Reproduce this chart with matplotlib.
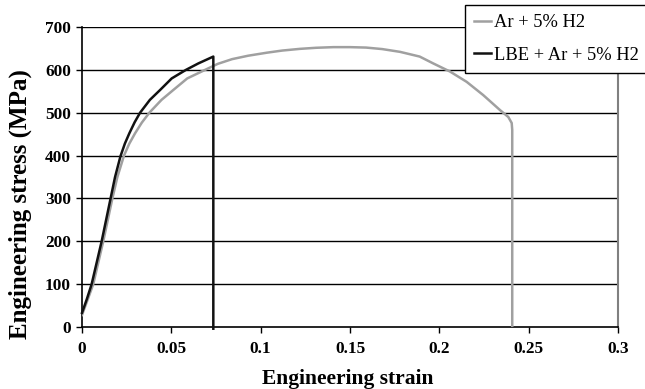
import matplotlib
matplotlib.use("Agg")
import matplotlib.pyplot as plt

# Data
strain_ar = [0, 0.003, 0.0063, 0.0119, 0.017, 0.0198, 0.0235, 0.0265, 0.0297, 0.0335, 0.0377,
             0.0445, 0.0511, 0.0589, 0.0694, 0.076, 0.084, 0.093, 0.1034, 0.112, 0.122, 0.131,
             0.1407, 0.15, 0.159, 0.168, 0.178, 0.189, 0.1966, 0.206, 0.2153, 0.2246, 0.234,
             0.2386, 0.2405, 0.2408, 0.2408]
stress_ar = [28, 62, 100, 200, 300, 350, 400, 428, 452, 477, 500,
             530, 553, 580, 601, 614, 625, 633, 640, 645, 649, 651.5,
             653, 653, 652, 648.5, 642, 631, 615, 596, 572, 541, 506,
             490, 476, 460, 0]

strain_lbe = [0, 0.0027, 0.0054, 0.011, 0.016, 0.0185, 0.0215, 0.024, 0.0265, 0.0295, 0.0325,
              0.038, 0.0437, 0.0502, 0.0582, 0.0651, 0.0735, 0.0735]
stress_lbe = [33, 65, 100, 200, 300, 350, 398, 428, 452, 478, 500,
              530, 553, 580, 600, 615, 631, -4]

labels = ["Ar + 5% H2", "LBE + Ar + 5% H2"]
xticks = [0, 0.05, 0.1, 0.15, 0.2, 0.25, 0.3]
xticklabels = ["0", "0.05", "0.1", "0.15", "0.2", "0.25", "0.3"]
yticks = [0, 100, 200, 300, 400, 500, 600, 700]

plt.rcParams['font.family'] = ['Liberation Serif', 'DejaVu Serif']

W, H = 645, 389
fig = plt.figure(figsize=(W / 100, H / 100), dpi=100)
ax = fig.add_axes([82 / W, 1 - 327 / H, 536 / W, 300 / H])

for y in yticks[1:]:
    ax.axhline(y, color='black', lw=1.0, zorder=1)

l1, = ax.plot(strain_ar, stress_ar, color='#a0a0a0', lw=1.8, zorder=3, label=labels[0],
              solid_joinstyle='round')
l2, = ax.plot(strain_lbe, stress_lbe, color='#111111', lw=1.8, zorder=4, label=labels[1],
              solid_joinstyle='round', clip_on=False)

ax.set_xlim(0, 0.3)
ax.set_ylim(0, 700)
ax.set_xticks(xticks)
ax.set_xticklabels(xticklabels)
ax.set_yticks(yticks)
ax.tick_params(direction='out', length=4, width=1, labelsize=12.4, colors='black')
ax.tick_params(axis='x', pad=6)
ax.tick_params(axis='y', pad=4)
for lab in ax.get_xticklabels() + ax.get_yticklabels():
    lab.set_fontweight('bold')

ax.spines['top'].set_visible(False)
ax.spines['right'].set_color('#808080')
ax.spines['right'].set_linewidth(1.5)
ax.spines['left'].set_linewidth(1.2)
ax.spines['bottom'].set_linewidth(1.2)

fig.text(348 / W, 1 - 384 / H, "Engineering strain", fontsize=15.5, fontweight='bold',
         ha='center', va='baseline')
fig.text(27 / W, 1 - 204 / H, "Engineering stress (MPa)", fontsize=18, fontweight='bold',
         ha='center', va='baseline', rotation=90, rotation_mode='anchor')

leg = fig.legend(handles=[l1, l2], labels=labels, loc='upper left',
                 bbox_to_anchor=(465 / W, 1 - 5 / H), bbox_transform=fig.transFigure,
                 fontsize=13.3, frameon=True, fancybox=False, framealpha=1,
                 edgecolor='black', handlelength=0.9, handletextpad=0.15,
                 labelspacing=0.85, borderpad=0.5, borderaxespad=0)
leg.get_frame().set_linewidth(1.0)

fig.savefig("out.png", dpi=100)
